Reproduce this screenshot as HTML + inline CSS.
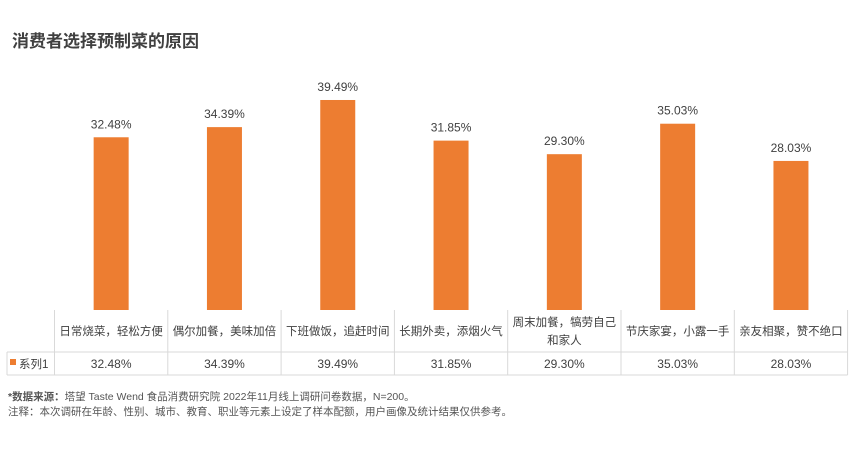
<!DOCTYPE html>
<html><head><meta charset="utf-8"><style>
body{margin:0;width:850px;height:446px;background:#fff;overflow:hidden;font-family:"Liberation Sans","Noto Sans CJK SC",sans-serif;}
</style></head><body>
<svg id="chart" width="850" height="446" xmlns="http://www.w3.org/2000/svg">
<text x="12" y="47" font-size="17" font-weight="bold" fill="#404040" font-family="Liberation Sans, Noto Sans CJK SC, sans-serif">消费者选择预制菜的原因</text>
<g id="bars"></g>
<g id="table"></g>
<text x="8" y="400" font-size="10.5" fill="#555" font-family="Liberation Sans, Noto Sans CJK SC, sans-serif"><tspan font-weight="bold">*数据来源：</tspan>塔望 Taste Wend 食品消费研究院 2022年11月线上调研问卷数据，N=200。</text>
<text x="8" y="415" font-size="10.5" fill="#555" font-family="Liberation Sans, Noto Sans CJK SC, sans-serif">注释：本次调研在年龄、性别、城市、教育、职业等元素上设定了样本配额，用户画像及统计结果仅供参考。</text>
</svg>
<script>
const categories=["日常烧菜，轻松方便","偶尔加餐，美味加倍","下班做饭，追赶时间","长期外卖，添烟火气","周末加餐，犒劳自己|和家人","节庆家宴，小露一手","亲友相聚，赞不绝口"];
const values=[32.48,34.39,39.49,31.85,29.30,35.03,28.03];
const valueLabels=["32.48%","34.39%","39.49%","31.85%","29.30%","35.03%","28.03%"];
const NS="http://www.w3.org/2000/svg";
const leftX=54.5,colW=113.3,base=310,pxPer=5.318,barW=35;
const F="Liberation Sans, Noto Sans CJK SC, sans-serif";
const xC=i=>leftX+colW*(i+0.5);
const yV=v=>base-v*pxPer;
function mk(tag,attrs,parent){const e=document.createElementNS(NS,tag);for(const k in attrs)e.setAttribute(k,attrs[k]);parent.appendChild(e);return e;}
const barsG=document.getElementById('bars'),tableG=document.getElementById('table');
values.forEach((v,i)=>{
 const r=mk('rect',{x:xC(i)-barW/2,y:yV(v),width:barW,height:base-yV(v),fill:'#ED7D31'},barsG);
 
 
 const t=mk('text',{x:xC(i),y:yV(v)-9,'text-anchor':'middle','font-size':12,fill:'#404040','font-family':F},barsG);
 t.textContent=valueLabels[i];
 
 
});
const tTop=310,tMid=352,tBot=375,tl=7,tr=leftX+colW*7;
const gl=(x1,y1,x2,y2)=>mk('line',{x1,y1,x2,y2,stroke:'#d9d9d9','stroke-width':1},tableG);
gl(tl,tMid,tr,tMid);gl(tl,tBot,tr,tBot);gl(tl,tMid,tl,tBot);
for(let i=0;i<=7;i++)gl(leftX+colW*i,tTop,leftX+colW*i,tBot);
categories.forEach((c,i)=>{
 const parts=c.split('|');
 const t=mk('text',{x:xC(i),'text-anchor':'middle','font-size':11.5,fill:'#404040','font-family':F},tableG);
 
 
 parts.forEach((p,j)=>{const s=mk('tspan',{x:xC(i),y:(parts.length>1?326:335)+j*18},t);s.textContent=p;});
 const v=mk('text',{x:xC(i),y:368,'text-anchor':'middle','font-size':12,fill:'#404040','font-family':F},tableG);
 v.textContent=valueLabels[i];
 
 
});
const lk=mk('rect',{x:10,y:359,width:6,height:6,fill:'#ED7D31'},tableG);


const lt=mk('text',{x:19,y:368,'font-size':11.5,fill:'#404040','font-family':F},tableG);
lt.textContent='系列1';


</script>
</body></html>
